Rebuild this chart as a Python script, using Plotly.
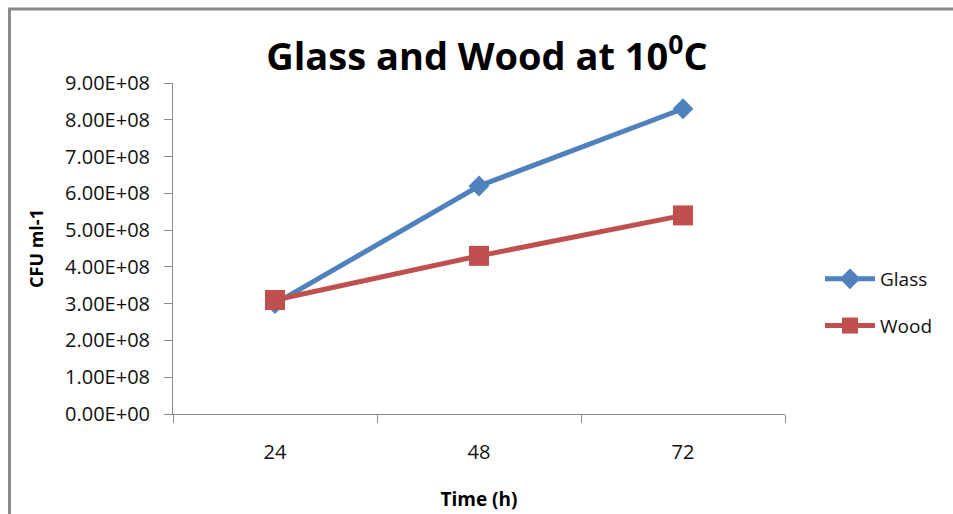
import plotly.graph_objects as go

# Sampling times (h) and colony counts (CFU ml-1) at 10 °C
times = ["24", "48", "72"]
glass = [3.0e8, 6.2e8, 8.3e8]
wood = [3.1e8, 4.3e8, 5.4e8]
y_ticks = [i * 1e8 for i in range(10)]
y_tick_text = ["%.2fE+08" % (v / 1e8) if v > 0 else "0.00E+00" for v in y_ticks]

W, H = 953, 514
L, R, T, B = 173, 168, 83, 100
pw, ph = W - L - R, H - T - B
FONT = "Open Sans, sans-serif"

fig = go.Figure()
fig.add_trace(go.Scatter(
    x=times, y=glass, name="Glass", mode="lines+markers", legendgroup="g",
    line=dict(color="#4F81BD", width=5),
    marker=dict(symbol="diamond", size=16, color="#4F81BD"),
))
fig.add_trace(go.Scatter(
    x=times, y=wood, name="Wood", mode="lines+markers", legendgroup="w",
    line=dict(color="#C0504D", width=5),
    marker=dict(symbol="square", size=20, color="#C0504D"),
))

# Outer chart frame (left and top edges visible)
fig.add_shape(type="rect", xref="paper", yref="paper",
              x0=(9.5 - L) / pw, x1=(W + 20 - L) / pw,
              y0=-(H + 20 - T - ph) / ph, y1=(T + ph - 9) / ph,
              line=dict(color="#8a8a8a", width=3), layer="below")

fig.update_layout(
    width=W, height=H,
    margin=dict(l=L, r=R, t=T, b=B, autoexpand=False),
    paper_bgcolor="white", plot_bgcolor="white",
    font=dict(family=FONT, color="#000000"),
    title=dict(text="<b>Glass and Wood at 10<sup>0</sup>C</b>",
               x=487 / W, xanchor="center", y=1 - 57 / H, yanchor="middle",
               font=dict(size=38, family=FONT)),
    showlegend=True,
    legend=dict(x=(820 - L) / pw, y=(414 - 260) / ph, xanchor="left", yanchor="top",
                font=dict(size=19, color="#111111"), tracegroupgap=19, itemwidth=50,
                bgcolor="rgba(0,0,0,0)"),
    xaxis=dict(
        type="category", range=[-0.5, 2.5], automargin=False,
        showline=True, linecolor="#888888", linewidth=1,
        ticks="outside", ticklen=8, tickcolor="#888888",
        tickson="boundaries", showgrid=False,
        tickfont=dict(size=20, color="#111111"), ticklabelstandoff=20,
        title=dict(text="<b>Time (h)</b>", font=dict(size=19), standoff=28),
    ),
    yaxis=dict(
        range=[0, 9e8], tickvals=y_ticks, ticktext=y_tick_text, automargin=False,
        showline=True, linecolor="#888888", linewidth=1,
        ticks="outside", ticklen=8, tickcolor="#888888",
        showgrid=False, zeroline=False,
        tickfont=dict(size=20, color="#111111"), ticklabelstandoff=10,
        title=dict(text="<b>CFU ml-1</b>", font=dict(size=18), standoff=16),
    ),
)

fig.write_html("out.html")
